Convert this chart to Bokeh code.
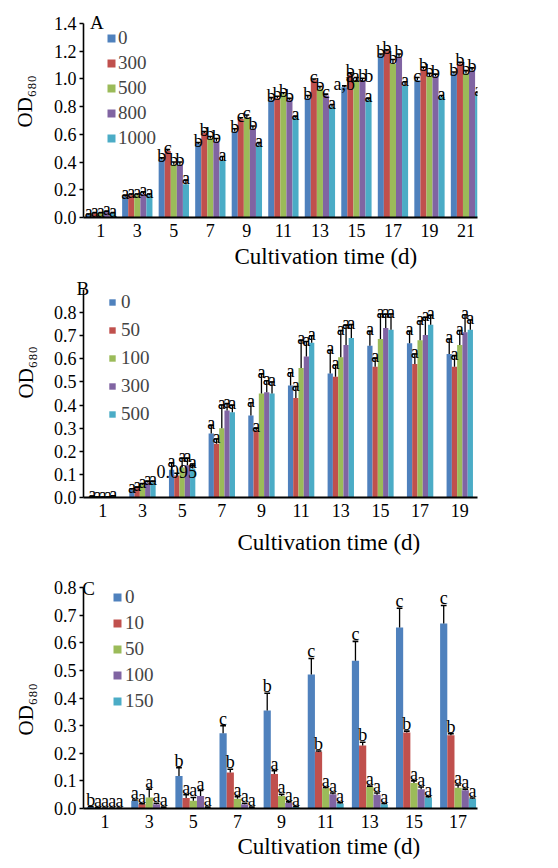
from bokeh.plotting import figure
from bokeh.models import (ColumnDataSource, Range1d, FixedTicker, PrintfTickFormatter,
                          Legend, LegendItem, Title)
from bokeh.core.properties import value
from bokeh.layouts import column
from bokeh.embed import file_html
from bokeh.resources import INLINE

FONT = "Liberation Serif"
COLORS = ["#4F81BD", "#C0504D", "#9BBB59", "#8064A2", "#4BACC6"]

# ---------------- Panel A ----------------
a_days = [1, 3, 5, 7, 9, 11, 13, 15, 17, 19, 21]
a_conc = ["0", "300", "500", "800", "1000"]
a_yticks = [0.0, 0.2, 0.4, 0.6, 0.8, 1.0, 1.2, 1.4]
a_v0 = [0.02, 0.15, 0.42, 0.53, 0.62, 0.85, 0.86, 0.94, 1.17, 0.99, 1.04]
a_v300 = [0.03, 0.16, 0.48, 0.61, 0.71, 0.86, 0.99, 1.03, 1.20, 1.07, 1.11]
a_v500 = [0.03, 0.16, 0.38, 0.57, 0.72, 0.89, 0.93, 0.99, 1.11, 1.02, 1.04]
a_v800 = [0.04, 0.17, 0.38, 0.55, 0.64, 0.85, 0.88, 0.99, 1.16, 1.02, 1.06]
a_v1000 = [0.03, 0.16, 0.24, 0.41, 0.52, 0.72, 0.80, 0.85, 0.95, 0.87, 0.89]
a_e0 = [0.005, 0.01, 0.01, 0.01, 0.02, 0.015, 0.02, 0.01, 0.01, 0.02, 0.01]
a_e300 = [0.005, 0.01, 0.01, 0.01, 0.01, 0.015, 0.01, 0.015, 0.01, 0.015, 0.01]
a_e500 = [0.005, 0.01, 0.02, 0.015, 0.02, 0.01, 0.015, 0.02, 0.03, 0.02, 0.02]
a_e800 = [0.005, 0.015, 0.02, 0.02, 0.02, 0.01, 0.01, 0.015, 0.02, 0.015, 0.02]
a_e1000 = [0.005, 0.01, 0.03, 0.03, 0.02, 0.01, 0.015, 0.01, 0.03, 0.01, 0.015]
a_l0 = ["a", "a", "b", "b", "b", "b", "b", "a,b", "b", "c", "b"]
a_l300 = ["a", "a", "c", "b", "c", "b", "c", "b", "b", "b", "b"]
a_l500 = ["a", "a", "b", "b", "c", "b", "b", "a.b", "b", "b", "b"]
a_l800 = ["a", "a", "b", "b", "b", "b", "c", "a.b", "b", "b", "b"]
a_l1000 = ["a", "a", "a", "a", "a", "a", "a", "a", "a", "a", "a"]

# ---------------- Panel B ----------------
b_days = [1, 3, 5, 7, 9, 11, 13, 15, 17, 19]
b_conc = ["0", "50", "100", "300", "500"]
b_yticks = [0.0, 0.1, 0.2, 0.3, 0.4, 0.5, 0.6, 0.7, 0.8]
b_v0 = [0.004, 0.033, 0.12, 0.277, 0.355, 0.485, 0.537, 0.657, 0.667, 0.621]
b_v50 = [0.001, 0.04, 0.095, 0.233, 0.29, 0.43, 0.523, 0.566, 0.578, 0.566]
b_v100 = [0.001, 0.055, 0.13, 0.30, 0.45, 0.56, 0.607, 0.686, 0.68, 0.66]
b_v300 = [0.001, 0.065, 0.14, 0.376, 0.455, 0.61, 0.66, 0.733, 0.703, 0.715]
b_v500 = [0.005, 0.065, 0.125, 0.369, 0.45, 0.67, 0.69, 0.726, 0.748, 0.726]
b_e0 = [0.002, 0.005, 0.03, 0.035, 0.055, 0.055, 0.10, 0.062, 0.052, 0.065]
b_e50 = [0.001, 0.005, 0.01, 0.02, 0.01, 0.05, 0.05, 0.037, 0.043, 0.048]
b_e100 = [0.001, 0.005, 0.04, 0.10, 0.085, 0.12, 0.115, 0.108, 0.084, 0.062]
b_e300 = [0.001, 0.005, 0.03, 0.03, 0.05, 0.065, 0.086, 0.06, 0.076, 0.076]
b_e500 = [0.002, 0.005, 0.02, 0.03, 0.05, 0.03, 0.058, 0.068, 0.04, 0.042]
b_l0 = ["a"] * 10
b_l50 = ["a", "a", "0.095", "a", "a", "a", "a", "a", "a", "a"]
b_l100 = ["a"] * 10
b_l300 = ["a"] * 10
b_l500 = ["a"] * 10

# ---------------- Panel C ----------------
c_days = [1, 3, 5, 7, 9, 11, 13, 15, 17]
c_conc = ["0", "10", "50", "100", "150"]
c_yticks = [0.0, 0.1, 0.2, 0.3, 0.4, 0.5, 0.6, 0.7, 0.8]
c_v0 = [0.005, 0.028, 0.118, 0.272, 0.355, 0.485, 0.535, 0.655, 0.67]
c_v10 = [0.002, 0.015, 0.038, 0.13, 0.125, 0.205, 0.228, 0.275, 0.265]
c_v50 = [0.001, 0.04, 0.028, 0.035, 0.045, 0.073, 0.078, 0.092, 0.075]
c_v100 = [0.001, 0.015, 0.045, 0.015, 0.02, 0.052, 0.05, 0.07, 0.066]
c_v150 = [0.001, 0.003, 0.003, 0.003, 0.005, 0.018, 0.015, 0.04, 0.035]
c_e0 = [0.002, 0.003, 0.03, 0.028, 0.062, 0.058, 0.07, 0.07, 0.065]
c_e10 = [0.001, 0.002, 0.012, 0.012, 0.012, 0.003, 0.012, 0.005, 0.006]
c_e50 = [0.001, 0.03, 0.012, 0.008, 0.006, 0.003, 0.003, 0.008, 0.01]
c_e100 = [0.001, 0.004, 0.02, 0.004, 0.004, 0.004, 0.006, 0.008, 0.004]
c_e150 = [0.001, 0.002, 0.002, 0.002, 0.002, 0.003, 0.003, 0.003, 0.003]
c_l0 = ["b", "a", "b", "c", "b", "c", "c", "c", "c"]
c_l10 = ["a", "a", "a", "b", "a", "b", "b", "b", "b"]
c_l50 = ["a"] * 9
c_l100 = ["a"] * 9
c_l150 = ["a"] * 9


def title(text, size, offset, valign, standoff):
    return Title(text=text, align="left", offset=offset, vertical_align=valign,
                 standoff=standoff, text_font=FONT, text_font_size=size,
                 text_font_style="normal", text_color="black")


def panel(days, conc, yticks, vals, errs, lets, cfg):
    n = len(days)
    p = figure(width=558, height=cfg["h"],
               x_range=Range1d(*cfg["xr"]), y_range=Range1d(0, cfg["ytop"]),
               output_backend="svg", toolbar_location=None,
               min_border_left=cfg["bl"], min_border_right=cfg["br"],
               min_border_top=cfg["bt"], min_border_bottom=cfg["bb"])
    p.outline_line_color = None
    p.xgrid.visible = False
    p.ygrid.visible = False
    bw = cfg["bw"]
    cap = 0.065
    srcs = []
    items = []
    for j in range(5):
        xs = [i + (j - 2) * bw for i in range(n)]
        et = [v + e for v, e in zip(vals[j], errs[j])]
        srcs.append(ColumnDataSource(dict(
            x=xs, top=vals[j], et=et, lab=lets[j],
            x0=[x - cap for x in xs], x1=[x + cap for x in xs])))
    for j in range(5):
        r = p.vbar(x="x", top="top", bottom=0, width=bw, fill_color=COLORS[j],
                   line_color=None, source=srcs[j])
        items.append(LegendItem(label=conc[j], renderers=[r]))
    for j in range(5):
        p.segment(x0="x", y0="top", x1="x", y1="et", line_color="black",
                  line_width=1.3, source=srcs[j])
        p.segment(x0="x0", y0="et", x1="x1", y1="et", line_color="black",
                  line_width=1.6, source=srcs[j])
    for j in range(5):
        p.text(x="x", y="et", text="lab", source=srcs[j],
               text_font=value(FONT), text_font_size="18px",
               text_align="center", text_baseline="alphabetic",
               y_offset=cfg["lo"], text_color="black")

    # axes
    p.xaxis.ticker = FixedTicker(ticks=list(range(n)))
    p.xaxis.major_label_overrides = {i: str(d) for i, d in enumerate(days)}
    p.xaxis.major_tick_out = 0
    p.xaxis.major_tick_in = 0
    p.xaxis.minor_tick_line_color = None
    p.xaxis.major_label_standoff = 6
    p.xaxis.axis_line_width = 2
    p.yaxis.ticker = FixedTicker(ticks=yticks)
    p.yaxis.formatter = PrintfTickFormatter(format="%.1f")
    p.yaxis.major_tick_out = 4
    p.yaxis.major_tick_in = 0
    p.yaxis.minor_tick_line_color = None
    p.yaxis.major_label_standoff = 3
    p.yaxis.axis_line_width = 1.6
    p.yaxis.major_tick_line_width = 1.4
    for ax in (p.xaxis, p.yaxis):
        ax.major_label_text_font = FONT
        ax.major_label_text_font_size = "18px"
        ax.major_label_text_color = "black"
        ax.axis_line_color = "black"
        ax.major_tick_line_color = "black"

    leg = Legend(items=items, location=cfg["leg_loc"], orientation="vertical",
                 label_text_font=FONT, label_text_font_size="19px",
                 glyph_width=cfg["gw"], glyph_height=cfg["gw"],
                 label_standoff=cfg["ls"], spacing=cfg["sp"], padding=0, margin=0,
                 background_fill_alpha=0, border_line_alpha=0)
    p.add_layout(leg)

    # axis titles and panel tag
    p.add_layout(title("Cultivation time (d)", "23px", cfg["xt"][0], "top",
                       cfg["xt"][1]), "below")
    p.add_layout(title("OD\u2086\u2088\u2080", "21px", cfg["yt"][0], "top",
                       cfg["yt"][1]), "left")
    p.add_layout(title(cfg["tag"][0], "19px", cfg["tag"][1], "bottom",
                       cfg["tag"][2]), "above")
    return p


# Layout geometry (page pixels)
# A frame: x 79..558, y 23..217 ; centres 100 + 44.4 i
# B frame: x 76..525, y 289..497 ; centres 98 + 45.2 i
# C frame: x 76..477, y 587..808 ; centres 98 + 44.9 i
pA = panel(a_days, a_conc, a_yticks,
           [a_v0, a_v300, a_v500, a_v800, a_v1000],
           [a_e0, a_e300, a_e500, a_e800, a_e1000],
           [a_l0, a_l300, a_l500, a_l800, a_l1000],
           dict(h=278, xr=(-0.473, 10.315), ytop=1.4, bl=79, br=0, bt=23, bb=61,
                bw=0.166, leg_loc=(23, 68), gw=10, ls=2, sp=3, lo=-2,
                tag=("A", 6.5, -18), xt=(151, 8), yt=(90, 24)))
pB = panel(b_days, b_conc, b_yticks,
           [b_v0, b_v50, b_v100, b_v300, b_v500],
           [b_e0, b_e50, b_e100, b_e300, b_e500],
           [b_l0, b_l50, b_l100, b_l300, b_l500],
           dict(h=292, xr=(-0.487, 9.447), ytop=0.9, bl=76, br=33, bt=11, bb=73,
                bw=0.133, leg_loc=(25, 72), gw=8, ls=5, sp=6, lo=-2,
                tag=("B", -7, -18), xt=(154, 20), yt=(99, 21)))
pC = panel(c_days, c_conc, c_yticks,
           [c_v0, c_v10, c_v50, c_v100, c_v150],
           [c_e0, c_e10, c_e50, c_e100, c_e150],
           [c_l0, c_l10, c_l50, c_l100, c_l150],
           dict(h=298, xr=(-0.49, 8.44), ytop=0.8, bl=76, br=81, bt=17, bb=60,
                bw=0.163, leg_loc=(29, 96), gw=10, ls=3, sp=4, lo=-7,
                tag=("C", -1.3, -22), xt=(154, 7), yt=(73, 21)))

layout = column(pA, pB, pC)
open("out.html", "w").write(file_html(layout, INLINE))
